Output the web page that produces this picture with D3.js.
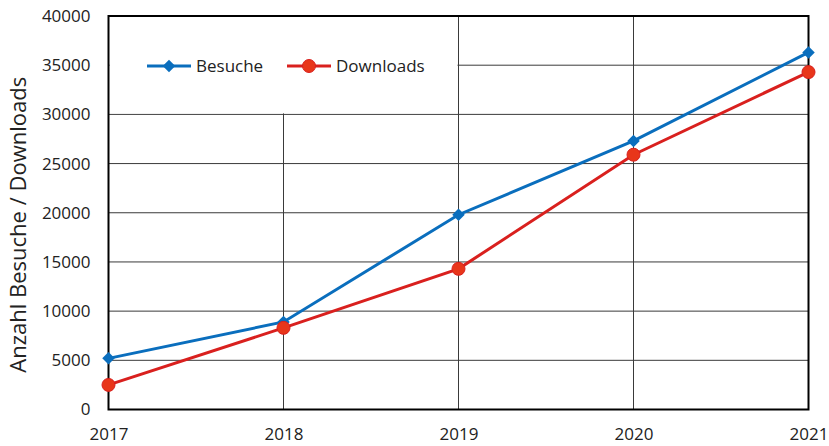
<!DOCTYPE html>
<html><head><meta charset="utf-8">
<script src="https://cdn.jsdelivr.net/npm/d3@7"></script>
<style>body{margin:0;background:#fff}svg{display:block}</style>
</head><body>
<svg id="c" width="829" height="446"></svg>
<script>
const years = [2017, 2018, 2019, 2020, 2021];
const besuche = [5200, 8900, 19800, 27300, 36300];
const downloads = [2500, 8300, 14300, 25900, 34300];
const yTicks = [0, 5000, 10000, 15000, 20000, 25000, 30000, 35000, 40000];
const seriesNames = ["Besuche", "Downloads"];

const svg = d3.select("#c");
const L = 108.5, R = 808.5, T = 16, B = 409.5;
const x = d3.scaleLinear().domain([2017, 2021]).range([L, R]);
const y = d3.scaleLinear().domain([0, 40000]).range([B, T]);
const font = "'Open Sans', sans-serif";

// grid
const g = svg.append("g");
g.selectAll(".h").data(yTicks.slice(1, -1)).join("line")
  .attr("x1", L).attr("x2", R).attr("y1", d => y(d)).attr("y2", d => y(d))
  .attr("stroke", "#3a3a3a").attr("stroke-width", 1);
g.selectAll(".v").data(years.slice(1, -1)).join("line")
  .attr("x1", d => x(d)).attr("x2", d => x(d)).attr("y1", T).attr("y2", B)
  .attr("stroke", "#3a3a3a").attr("stroke-width", 1);

// legend background (hides grid)
svg.append("rect").attr("x", L + 1).attr("y", T + 1).attr("width", x(2019) - L - 2).attr("height", y(30000) - T - 2)
  .attr("fill", "#fff");

// axes
const yAxis = d3.axisLeft(y).tickValues(yTicks).tickSize(0).tickPadding(18).tickFormat(d3.format("d"));
const ya = svg.append("g").attr("transform", `translate(${L},0)`).call(yAxis);
ya.select(".domain").remove();
ya.selectAll("text").attr("font-family", font).attr("font-size", 17).attr("fill", "#222");
const xAxis = d3.axisBottom(x).tickValues(years).tickSize(0).tickPadding(18).tickFormat(d3.format("d"));
const xa = svg.append("g").attr("transform", `translate(0,${B})`).call(xAxis);
xa.select(".domain").remove();
xa.selectAll("text").attr("font-family", font).attr("font-size", 17).attr("fill", "#222");

// frame
svg.append("rect").attr("x", L).attr("y", T).attr("width", R - L).attr("height", B - T)
  .attr("fill", "none").attr("stroke", "#000").attr("stroke-width", 2);

// y title
svg.append("text").attr("transform", `translate(26,${(T + B) / 2 + 12}) rotate(-90)`)
  .attr("text-anchor", "middle").attr("font-family", font).attr("font-size", 22).attr("fill", "#222")
  .text("Anzahl Besuche / Downloads");

const line = d3.line().x((d, i) => x(years[i])).y(d => y(d));
const blue = "#0A6EBD", red = "#D9201E", redFill = "#E8361A";
const diamond = d3.symbol().type(d3.symbolSquare).size(78);

svg.append("path").datum(besuche).attr("d", line).attr("fill", "none").attr("stroke", blue).attr("stroke-width", 3);
svg.append("path").datum(downloads).attr("d", line).attr("fill", "none").attr("stroke", red).attr("stroke-width", 3);
svg.selectAll(".mb").data(besuche).join("path")
  .attr("d", diamond).attr("transform", (d, i) => `translate(${x(years[i])},${y(d)}) rotate(45)`).attr("fill", blue);
svg.selectAll(".md").data(downloads).join("circle")
  .attr("cx", (d, i) => x(years[i])).attr("cy", d => y(d)).attr("r", 6.5)
  .attr("fill", redFill).attr("stroke", red).attr("stroke-width", 1);

// legend
const lg = svg.append("g");
const ly = 66;
lg.append("line").attr("x1", 147).attr("x2", 191).attr("y1", ly).attr("y2", ly).attr("stroke", blue).attr("stroke-width", 3);
lg.append("path").attr("d", diamond).attr("transform", `translate(169,${ly}) rotate(45)`).attr("fill", blue);
lg.append("text").attr("x", 196).attr("y", ly + 6).attr("font-family", font).attr("font-size", 17).attr("fill", "#222").text(seriesNames[0]);
lg.append("line").attr("x1", 287).attr("x2", 331).attr("y1", ly).attr("y2", ly).attr("stroke", red).attr("stroke-width", 3);
lg.append("circle").attr("cx", 309).attr("cy", ly).attr("r", 6.5).attr("fill", redFill).attr("stroke", red);
lg.append("text").attr("x", 336).attr("y", ly + 6).attr("font-family", font).attr("font-size", 17).attr("fill", "#222").text(seriesNames[1]);
</script>
</body></html>
